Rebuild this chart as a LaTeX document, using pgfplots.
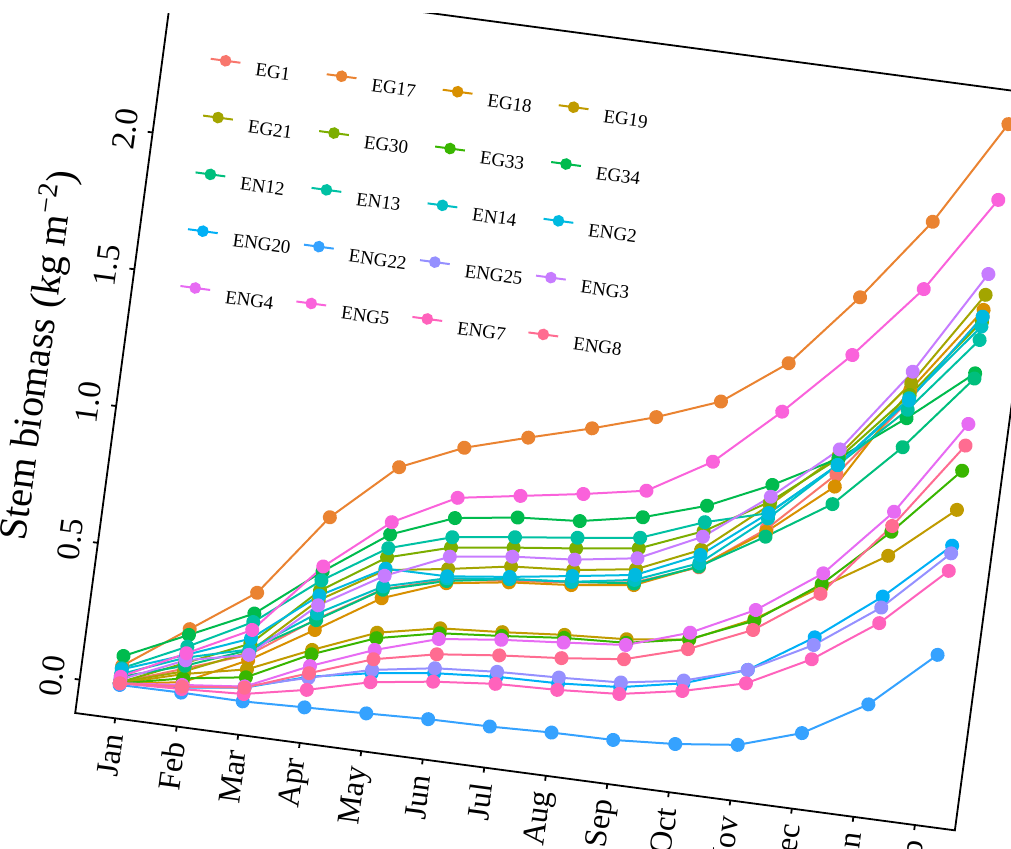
\documentclass[border=0pt]{standalone}
\usepackage{pgfplots}
\pgfplotsset{compat=1.18}
\usepackage{fontspec}
\setmainfont{Liberation Serif}
\definecolor{cA}{HTML}{F8766D}
\definecolor{cB}{HTML}{EA8331}
\definecolor{cC}{HTML}{D89000}
\definecolor{cD}{HTML}{C09B00}
\definecolor{cE}{HTML}{A3A500}
\definecolor{cF}{HTML}{7CAE00}
\definecolor{cG}{HTML}{39B600}
\definecolor{cH}{HTML}{00BB4E}
\definecolor{cI}{HTML}{00BF7D}
\definecolor{cJ}{HTML}{00C1A3}
\definecolor{cK}{HTML}{00BFC4}
\definecolor{cL}{HTML}{00BAE0}
\definecolor{cM}{HTML}{00B0F6}
\definecolor{cN}{HTML}{35A2FF}
\definecolor{cO}{HTML}{9590FF}
\definecolor{cP}{HTML}{C77CFF}
\definecolor{cQ}{HTML}{E76BF3}
\definecolor{cR}{HTML}{FA62DB}
\definecolor{cS}{HTML}{FF62BC}
\definecolor{cT}{HTML}{FF6C91}
\pgfplotstableread{
m EGa EGb EGc EGd EGe EGf EGg EGh ENa ENb ENc NGa NGb NGc NGd NGe NGf NGg NGh NGi
0 0.010 0.070 0.005 0.006 0.010 0.010 0.006 0.106 0.030 0.061 0.040 0.057 0.006 0.000 0.006 0.020 0.006 0.030 0.006 0.006
1 0.090 0.234 0.040 0.070 0.080 0.110 0.054 0.213 0.100 0.170 0.130 0.140 0.020 0.002 0.024 0.120 0.030 0.146 0.015 0.024
2 0.170 0.397 0.150 0.117 0.180 0.211 0.088 0.321 0.188 0.290 0.190 0.230 0.050 0.000 0.054 0.170 0.054 0.261 0.027 0.050
3 0.330 0.703 0.291 0.218 0.400 0.435 0.202 0.505 0.327 0.472 0.351 0.417 0.120 0.008 0.116 0.381 0.159 0.523 0.072 0.133
4 0.470 0.916 0.437 0.311 0.540 0.586 0.291 0.670 0.468 0.620 0.480 0.545 0.163 0.016 0.175 0.519 0.248 0.715 0.130 0.214
5 0.535 1.017 0.522 0.357 0.574 0.652 0.339 0.760 0.530 0.690 0.540 0.547 0.193 0.025 0.211 0.619 0.318 0.834 0.162 0.262
6 0.560 1.084 0.555 0.373 0.613 0.682 0.359 0.792 0.567 0.720 0.567 0.575 0.210 0.028 0.228 0.649 0.345 0.871 0.184 0.288
7 0.585 1.148 0.575 0.393 0.630 0.709 0.382 0.809 0.587 0.748 0.587 0.608 0.216 0.036 0.237 0.668 0.365 0.908 0.192 0.308
8 0.615 1.219 0.605 0.407 0.663 0.739 0.394 0.853 0.611 0.778 0.624 0.642 0.232 0.039 0.249 0.703 0.386 0.950 0.207 0.334
9 0.700 1.306 0.703 0.435 0.764 0.832 0.437 0.925 0.703 0.865 0.715 0.745 0.276 0.054 0.286 0.812 0.461 1.086 0.248 0.401
10 0.870 1.476 0.860 0.541 0.958 0.970 0.535 1.031 0.842 0.928 0.909 0.928 0.355 0.081 0.355 0.988 0.574 1.299 0.306 0.501
11 1.100 1.747 1.055 0.688 1.170 1.158 0.699 1.158 0.991 1.134 1.134 1.134 0.504 0.154 0.476 1.191 0.738 1.536 0.424 0.663
12 1.400 2.053 1.439 0.832 1.463 1.420 0.920 1.335 1.229 1.366 1.408 1.400 0.683 0.289 0.643 1.505 0.993 1.807 0.586 0.941
13 1.736 2.440 1.761 1.030 1.816 1.718 1.173 1.529 1.510 1.651 1.700 1.736 0.899 0.500 0.871 1.892 1.344 2.163 0.807 1.265
}\datatable
\begin{document}
\begin{tikzpicture}
\path[use as bounding box] (-37.6pt,-68pt) rectangle (467.9pt,356.5pt);
\begin{scope}[transform canvas={rotate around={-7.6:(0pt,0pt)}}]
\begin{axis}[
  scale only axis, width=443.75pt, height=370.4pt,
  xmin=-0.65, xmax=13.65, ymin=-0.122, ymax=2.562,
  xtick={0,...,13},
  xticklabels={Jan,Feb,Mar,Apr,May,Jun,Jul,Aug,Sep,Oct,Nov,Dec,Jan,Feb},
  ytick={0,0.5,1,1.5,2,2.5},
  yticklabels={0.0,0.5,1.0,1.5,2.0,2.5},
  tick align=outside, xtick pos=bottom, ytick pos=left,
  major tick length=2.5pt,
  axis line style={line width=0.9pt},
  every tick/.style={line width=0.9pt, black},
  xticklabel style={rotate=90, anchor=east, inner sep=0pt, font=\fontsize{16}{16}\selectfont},
  yticklabel style={rotate=90, anchor=south, inner sep=0pt, font=\fontsize{16.5}{16.5}\selectfont},
  xticklabel shift=5.2pt, yticklabel shift=5.6pt,
  ylabel={Stem biomass (kg m\textsuperscript{−2})},
  every axis y label/.style={at={(axis description cs:-0.081,0.472)}, rotate=90, anchor=base, font=\fontsize{20}{20}\selectfont},
  every axis plot/.append style={line width=1pt, mark=*, mark size=3pt},
  legend columns=4,
  legend cell align=left,
  legend style={draw=none, fill=none, at={(axis description cs:0.0523,0.9066)}, anchor=north west,
    font=\fontsize{9.5}{9.5}\selectfont, inner sep=0pt, row sep=19.15pt,
    nodes={inner sep=0pt},
    /tikz/every odd column/.style={column sep=7.5pt},
    /tikz/every even column/.style={column sep=6.0pt}},
  legend image code/.code={\draw[#1, mark size=2.4pt, mark repeat=2, mark phase=2] plot coordinates {(0pt,3.2pt) (7.5pt,3.2pt) (15pt,3.2pt)};},
]
\addplot[color=cA, mark options={fill=cA, draw=cA}] table[x=m, y=EGa] {\datatable};
\addlegendentry{EG1}
\addplot[color=cB, mark options={fill=cB, draw=cB}] table[x=m, y=EGb] {\datatable};
\addlegendentry{EG17}
\addplot[color=cC, mark options={fill=cC, draw=cC}] table[x=m, y=EGc] {\datatable};
\addlegendentry{EG18}
\addplot[color=cD, mark options={fill=cD, draw=cD}] table[x=m, y=EGd] {\datatable};
\addlegendentry{EG19}
\addplot[color=cE, mark options={fill=cE, draw=cE}] table[x=m, y=EGe] {\datatable};
\addlegendentry{EG21}
\addplot[color=cF, mark options={fill=cF, draw=cF}] table[x=m, y=EGf] {\datatable};
\addlegendentry{EG30}
\addplot[color=cG, mark options={fill=cG, draw=cG}] table[x=m, y=EGg] {\datatable};
\addlegendentry{EG33}
\addplot[color=cH, mark options={fill=cH, draw=cH}] table[x=m, y=EGh] {\datatable};
\addlegendentry{EG34}
\addplot[color=cI, mark options={fill=cI, draw=cI}] table[x=m, y=ENa] {\datatable};
\addlegendentry{EN12}
\addplot[color=cJ, mark options={fill=cJ, draw=cJ}] table[x=m, y=ENb] {\datatable};
\addlegendentry{EN13}
\addplot[color=cK, mark options={fill=cK, draw=cK}] table[x=m, y=ENc] {\datatable};
\addlegendentry{EN14}
\addplot[color=cL, mark options={fill=cL, draw=cL}] table[x=m, y=NGa] {\datatable};
\addlegendentry{ENG2}
\addplot[color=cM, mark options={fill=cM, draw=cM}] table[x=m, y=NGb] {\datatable};
\addlegendentry{ENG20}
\addplot[color=cN, mark options={fill=cN, draw=cN}] table[x=m, y=NGc] {\datatable};
\addlegendentry{ENG22}
\addplot[color=cO, mark options={fill=cO, draw=cO}] table[x=m, y=NGd] {\datatable};
\addlegendentry{ENG25}
\addplot[color=cP, mark options={fill=cP, draw=cP}] table[x=m, y=NGe] {\datatable};
\addlegendentry{ENG3}
\addplot[color=cQ, mark options={fill=cQ, draw=cQ}] table[x=m, y=NGf] {\datatable};
\addlegendentry{ENG4}
\addplot[color=cR, mark options={fill=cR, draw=cR}] table[x=m, y=NGg] {\datatable};
\addlegendentry{ENG5}
\addplot[color=cS, mark options={fill=cS, draw=cS}] table[x=m, y=NGh] {\datatable};
\addlegendentry{ENG7}
\addplot[color=cT, mark options={fill=cT, draw=cT}] table[x=m, y=NGi] {\datatable};
\addlegendentry{ENG8}
\end{axis}
\end{scope}
\fill[white] (-37.6pt,350pt) rectangle (467.9pt,357pt);
\end{tikzpicture}
\end{document}
